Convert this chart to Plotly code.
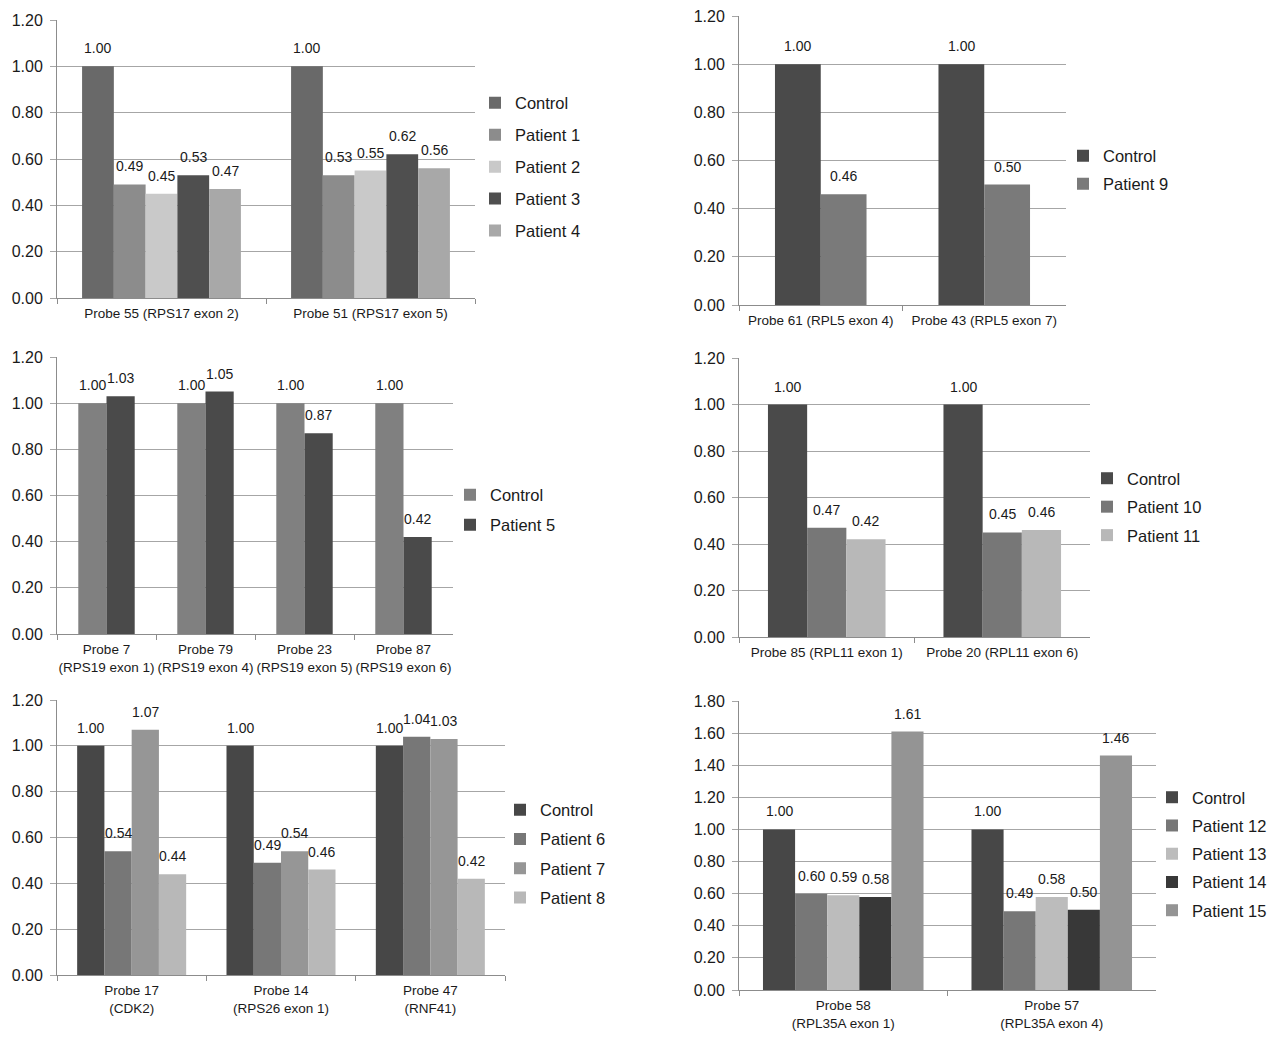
import plotly.graph_objects as go

W, H = 1280, 1037
FONT = "Liberation Sans, Arial, sans-serif"
TXT = "#1a1a1a"
GRID = "#a6a6a6"
AXIS = "#8c8c8c"

# ---------------- data ----------------
p1_cats = ["Probe 55 (RPS17 exon 2)", "Probe 51 (RPS17 exon 5)"]
p1_names = ["Control", "Patient 1", "Patient 2", "Patient 3", "Patient 4"]
p1_control = [1.00, 1.00]
p1_patient1 = [0.49, 0.53]
p1_patient2 = [0.45, 0.55]
p1_patient3 = [0.53, 0.62]
p1_patient4 = [0.47, 0.56]

p2_cats = ["Probe 61 (RPL5 exon 4)", "Probe 43 (RPL5 exon 7)"]
p2_names = ["Control", "Patient 9"]
p2_control = [1.00, 1.00]
p2_patient9 = [0.46, 0.50]

p3_cats = ["Probe 7<br>(RPS19 exon 1)", "Probe 79<br>(RPS19 exon 4)",
           "Probe 23<br>(RPS19 exon 5)", "Probe 87<br>(RPS19 exon 6)"]
p3_names = ["Control", "Patient 5"]
p3_control = [1.00, 1.00, 1.00, 1.00]
p3_patient5 = [1.03, 1.05, 0.87, 0.42]

p4_cats = ["Probe 85 (RPL11 exon 1)", "Probe 20 (RPL11 exon 6)"]
p4_names = ["Control", "Patient 10", "Patient 11"]
p4_control = [1.00, 1.00]
p4_patient10 = [0.47, 0.45]
p4_patient11 = [0.42, 0.46]

p5_cats = ["Probe 17<br>(CDK2)", "Probe 14<br>(RPS26 exon 1)", "Probe 47<br>(RNF41)"]
p5_names = ["Control", "Patient 6", "Patient 7", "Patient 8"]
p5_control = [1.00, 1.00, 1.00]
p5_patient6 = [0.54, 0.49, 1.04]
p5_patient7 = [1.07, 0.54, 1.03]
p5_patient8 = [0.44, 0.46, 0.42]

p6_cats = ["Probe 58<br>(RPL35A exon 1)", "Probe 57<br>(RPL35A exon 4)"]
p6_names = ["Control", "Patient 12", "Patient 13", "Patient 14", "Patient 15"]
p6_control = [1.00, 1.00]
p6_patient12 = [0.60, 0.49]
p6_patient13 = [0.59, 0.58]
p6_patient14 = [0.58, 0.50]
p6_patient15 = [1.61, 1.46]

# ---------------- panel styling / layout ----------------
panels = [
    dict(cats=p1_cats, names=p1_names,
         series=[p1_control, p1_patient1, p1_patient2, p1_patient3, p1_patient4],
         colors=["#696969", "#8c8c8c", "#c9c9c9", "#4f4f4f", "#a8a8a8"],
         box=(57, 20, 475, 298), ymax=1.2, fill=0.76,
         leg=(475, 167), leggap=7.5),
    dict(cats=p2_cats, names=p2_names,
         series=[p2_control, p2_patient9],
         colors=["#4a4a4a", "#7a7a7a"],
         box=(739, 16, 1066, 305), ymax=1.2, fill=0.56,
         leg=(1063, 170), leggap=3.5),
    dict(cats=p3_cats, names=p3_names,
         series=[p3_control, p3_patient5],
         colors=["#808080", "#4a4a4a"],
         box=(57, 357, 453, 634), ymax=1.2, fill=0.57,
         leg=(450, 510), leggap=5.5),
    dict(cats=p4_cats, names=p4_names,
         series=[p4_control, p4_patient10, p4_patient11],
         colors=["#4a4a4a", "#777777", "#b8b8b8"],
         box=(739, 358, 1090, 637), ymax=1.2, fill=0.67,
         leg=(1087, 507), leggap=4.0),
    dict(cats=p5_cats, names=p5_names,
         series=[p5_control, p5_patient6, p5_patient7, p5_patient8],
         colors=["#474747", "#777777", "#969696", "#b8b8b8"],
         box=(57, 700, 505, 975), ymax=1.2, fill=0.73,
         leg=(500, 854), leggap=4.8),
    dict(cats=p6_cats, names=p6_names,
         series=[p6_control, p6_patient12, p6_patient13, p6_patient14, p6_patient15],
         colors=["#474747", "#777777", "#bcbcbc", "#383838", "#949494"],
         box=(739, 701, 1156, 990), ymax=1.8, fill=0.77,
         leg=(1152, 854), leggap=3.8),
]

fig = go.Figure()
annotations = []
layout = dict(width=W, height=H,
              margin=dict(l=0, r=0, t=0, b=0, autoexpand=False),
              paper_bgcolor="white", plot_bgcolor="white",
              barmode="group", showlegend=True,
              font=dict(family=FONT, color=TXT))

for i, p in enumerate(panels, start=1):
    sfx = "" if i == 1 else str(i)
    xa, ya = "x" + sfx, "y" + sfx
    legname = "legend" + sfx
    n = len(p["series"])
    w = p["fill"] / n
    for j, (name, vals, col) in enumerate(zip(p["names"], p["series"], p["colors"])):
        off = -p["fill"] / 2 + j * w
        fig.add_trace(go.Bar(
            x=p["cats"], y=vals, name=name, xaxis=xa, yaxis=ya,
            marker=dict(color=col, line=dict(width=0)),
            width=w, offset=off,
            legend=legname, legendgroup=f"p{i}_{j}",
        ))
        # value labels, anchored on each bar's top centre
        for k, v in enumerate(vals):
            annotations.append(dict(
                x=k + off + w / 2, y=v, xref=xa, yref=ya,
                text=f"{v:.2f}", showarrow=False,
                xanchor="center", yanchor="bottom", yshift=8,
                font=dict(size=14, color=TXT, family=FONT),
            ))
    x0, y0, x1, y1 = p["box"]
    layout["xaxis" + sfx] = dict(
        domain=[x0 / W, x1 / W], anchor=ya, type="category",
        categoryorder="array", categoryarray=p["cats"],
        range=[-0.5, len(p["cats"]) - 0.5],
        showline=True, linecolor=AXIS, linewidth=1,
        ticks="outside", tickson="boundaries", ticklen=5, tickcolor=AXIS,
        tickangle=0, showgrid=False, ticklabelstandoff=3,
        tickfont=dict(size=13.5, color=TXT, family=FONT),
        fixedrange=True,
    )
    layout["yaxis" + sfx] = dict(
        domain=[1 - y1 / H, 1 - y0 / H], anchor=xa,
        range=[0, p["ymax"]], dtick=0.2, tick0=0, tickformat=".2f",
        showline=True, linecolor=AXIS, linewidth=1,
        ticks="outside", ticklen=6, tickcolor=GRID,
        showgrid=True, gridcolor=GRID, gridwidth=1, zeroline=False,
        tickfont=dict(size=16, color=TXT, family=FONT), ticklabelstandoff=4,
        fixedrange=True,
    )
    lx, lcy = p["leg"]
    layout[legname] = dict(
        x=lx / W, y=1 - lcy / H, xanchor="left", yanchor="middle",
        bgcolor="rgba(0,0,0,0)", borderwidth=0,
        font=dict(size=16.5, color=TXT, family=FONT),
        traceorder="grouped", tracegroupgap=p["leggap"],
    )

layout["annotations"] = annotations
fig.update_layout(**layout)
fig.write_html("out.html",
               config={"displayModeBar": False},
               post_script="document.body.style.margin='0';document.body.style.overflow='hidden';")
